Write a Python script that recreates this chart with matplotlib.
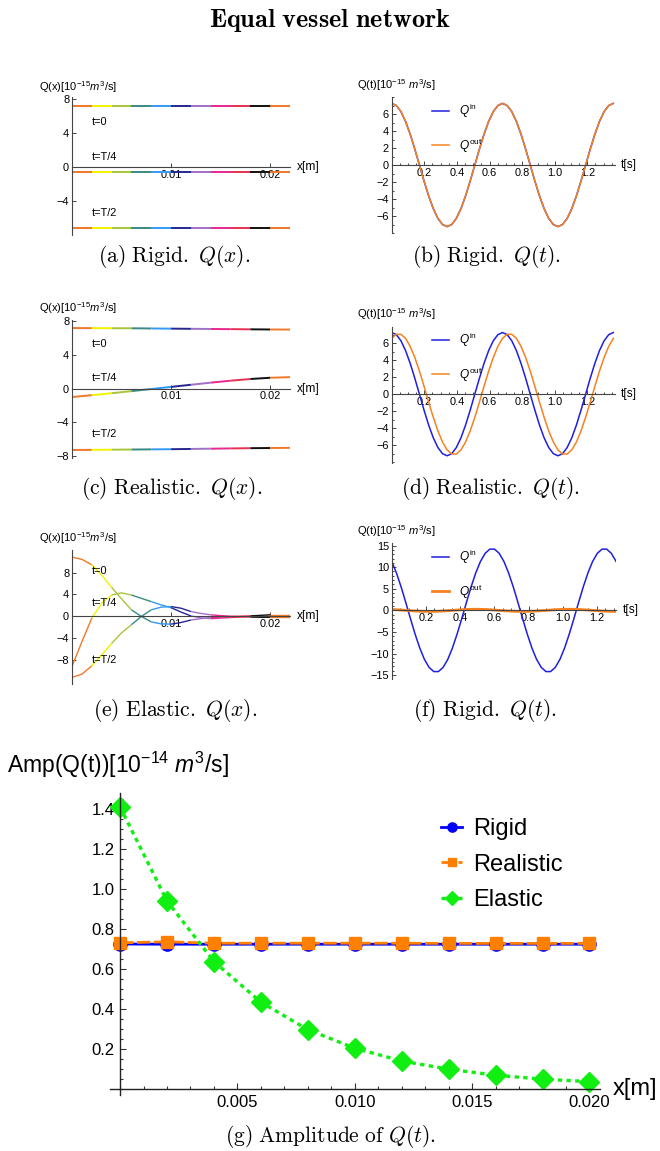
import matplotlib
matplotlib.use('Agg')
import matplotlib.pyplot as plt
import numpy as np
from matplotlib.ticker import MultipleLocator, FixedLocator, FormatStrFormatter

plt.rcParams['font.family'] = ['Liberation Sans', 'DejaVu Sans']
plt.rcParams['mathtext.fontset'] = 'custom'
plt.rcParams['mathtext.rm'] = 'Liberation Sans'
plt.rcParams['mathtext.it'] = 'Liberation Sans:italic'
plt.rcParams['mathtext.bf'] = 'Liberation Sans:bold'

# ---- data -------------------------------------------------------------
# vessel colours (11 vessels of 2 mm each)
vessel_colors = ['#f07828', '#f2f200', '#a8c43c', '#3a8a84', '#3399f5', '#262690',
                 '#a070c8', '#e8288c', '#e63050', '#111111', '#f07828']

x_coarse = np.round(np.arange(12) * 0.002, 3)   # vessel ends [m]
x_fine = np.round(np.arange(23) * 0.001, 3)

# (a) rigid Q(x)
qx_rigid_t0 = [7.2, 7.2, 7.2, 7.2, 7.2, 7.2, 7.2, 7.2, 7.2, 7.2, 7.2, 7.2]
qx_rigid_t4 = [-0.6, -0.6, -0.6, -0.6, -0.6, -0.6, -0.6, -0.6, -0.6, -0.6, -0.6, -0.6]
qx_rigid_t2 = [-7.15, -7.15, -7.15, -7.15, -7.15, -7.15, -7.15, -7.15, -7.15, -7.15, -7.15, -7.15]

# (c) realistic Q(x)
qx_real_t0 = [7.15, 7.14, 7.13, 7.12, 7.1, 7.08, 7.06, 7.04, 7.02, 7.0, 6.98, 6.97]
qx_real_t4 = [-1.0, -0.78, -0.55, -0.3, -0.05, 0.2, 0.45, 0.7, 0.93, 1.13, 1.28, 1.35]
qx_real_t2 = [-7.25, -7.24, -7.22, -7.2, -7.18, -7.16, -7.13, -7.1, -7.07, -7.04, -7.02, -7.0]

# (e) elastic Q(x)
qx_el_t0 = [10.8, 10.4, 9.4, 7.5, 5.3, 3.2, 1.2, 0.0, -1.0, -1.35, -1.4, -1.1, -0.65,
            -0.4, -0.2, -0.1, -0.05, 0.05, 0.1, 0.2, 0.3, 0.3, 0.3]
qx_el_t4 = [-9.1, -4.6, -0.3, 2.4, 3.9, 4.3, 3.9, 3.3, 2.7, 2.1, 1.6, 0.8, 0.1,
            -0.25, -0.4, -0.3, -0.2, -0.1, 0.0, 0.0, 0.0, 0.0, 0.0]
qx_el_t2 = [-11.1, -10.5, -9.0, -7.0, -4.9, -3.0, -1.5, 0.0, 1.2, 1.7, 1.8, 1.5, 0.9,
            0.55, 0.3, 0.15, 0.05, -0.05, -0.1, -0.15, -0.15, -0.15, -0.15]

# (b),(d) time samples [s]
t_rr = np.round(np.arange(49) * 0.02833, 4)
qt_rigid_in = [7.25, 7.00, 6.28, 5.13, 3.63, 1.88, 0.0, -1.88, -3.63, -5.13, -6.28, -7.00,
               -7.25, -7.00, -6.28, -5.13, -3.63, -1.88, 0.0, 1.88, 3.63, 5.13, 6.28, 7.00,
               7.25, 7.00, 6.28, 5.13, 3.63, 1.88, 0.0, -1.88, -3.63, -5.13, -6.28, -7.00,
               -7.25, -7.00, -6.28, -5.13, -3.63, -1.88, 0.0, 1.88, 3.63, 5.13, 6.28, 7.00,
               7.25]
qt_rigid_out = qt_rigid_in
qt_real_in = qt_rigid_in
qt_real_out = [6.56, 7.04, 7.04, 6.56, 5.63, 4.32, 2.72, 0.93, -0.93, -2.72, -4.32, -5.63,
               -6.56, -7.04, -7.04, -6.56, -5.63, -4.32, -2.72, -0.93, 0.93, 2.72, 4.32, 5.63,
               6.56, 7.04, 7.04, 6.56, 5.63, 4.32, 2.72, 0.93, -0.93, -2.72, -4.32, -5.63,
               -6.56, -7.04, -7.04, -6.56, -5.63, -4.32, -2.72, -0.93, 0.93, 2.72, 4.32, 5.63,
               6.56]

# (f) time samples [s]
t_el = np.round(np.arange(49) * 0.02733, 4)
qt_el_in = [11.35, 8.71, 5.47, 1.87, -1.87, -5.47, -8.71, -11.35, -13.21, -14.18, -14.18,
            -13.21, -11.35, -8.71, -5.47, -1.87, 1.87, 5.47, 8.71, 11.35, 13.21, 14.18,
            14.18, 13.21,
            11.35, 8.71, 5.47, 1.87, -1.87, -5.47, -8.71, -11.35, -13.21, -14.18, -14.18,
            -13.21, -11.35, -8.71, -5.47, -1.87, 1.87, 5.47, 8.71, 11.35, 13.21, 14.18,
            14.18, 13.21, 11.35]
qt_el_out = [0.2, 0.15, 0.08, 0.0, -0.08, -0.15, -0.2, -0.24, -0.25, -0.24, -0.2, -0.15,
             -0.08, 0.0, 0.08, 0.15, 0.2, 0.24, 0.25, 0.24, 0.2, 0.15, 0.08, 0.0,
             -0.08, -0.15, -0.2, -0.24, -0.25, -0.24, -0.2, -0.15, -0.08, 0.0, 0.08, 0.15,
             0.2, 0.24, 0.25, 0.24, 0.2, 0.15, 0.08, 0.0, -0.08, -0.15, -0.2, -0.24, -0.25]

# (g) amplitude
x_amp = [0.0, 0.002, 0.004, 0.006, 0.008, 0.010, 0.012, 0.014, 0.016, 0.018, 0.020]
amp_rigid = [0.725, 0.724, 0.724, 0.724, 0.724, 0.724, 0.724, 0.724, 0.724, 0.724, 0.724]
amp_realistic = [0.731, 0.736, 0.729, 0.729, 0.729, 0.729, 0.729, 0.728, 0.728, 0.728, 0.728]
amp_elastic = [1.41, 0.94, 0.637, 0.434, 0.297, 0.204, 0.140, 0.099, 0.069, 0.049, 0.037]

# ---- figure -----------------------------------------------------------
W, H = 660, 1151
fig = plt.figure(figsize=(W / 100, H / 100), dpi=100)

AX_COLOR = '#444444'
BLUE_T = '#1f1fe0'
ORANGE_T = '#f5821f'


def add_ax(left, top, right, bottom):
    return fig.add_axes([left / W, 1 - bottom / H, (right - left) / W, (bottom - top) / H])


def ftext(x, y, s, **kw):
    return fig.text(x / W, 1 - y / H, s, **kw)


def mma_axes(ax, xlim, ylim, fs=7.9):
    ax.set_xlim(*xlim)
    ax.set_ylim(*ylim)
    ax.patch.set_visible(False)
    ax.spines['top'].set_visible(False)
    ax.spines['right'].set_visible(False)
    ax.spines['left'].set_position(('data', 0))
    ax.spines['bottom'].set_position(('data', 0))
    for s in ('left', 'bottom'):
        ax.spines[s].set_color(AX_COLOR)
        ax.spines[s].set_linewidth(0.8)
    ax.tick_params(which='both', direction='in', colors=AX_COLOR, labelcolor='black',
                   labelsize=fs, width=0.7)
    ax.tick_params(which='major', length=3.2, pad=2)
    ax.tick_params(which='minor', length=1.6)


def qx_panel(top, bottom, ylim, yticks, curves, xs, lw, label_ys, ylab_y):
    ax = add_ax(72, top, 290, bottom)
    mma_axes(ax, (0, 0.022), ylim)
    n_per = (len(xs) - 1) // len(vessel_colors)
    for vals in curves:
        for i, c in enumerate(vessel_colors):
            sl = slice(i * n_per, (i + 1) * n_per + 1)
            ax.plot(xs[sl], vals[sl], color=c, lw=lw, solid_capstyle='butt')
    ax.set_xticks([0.01, 0.02])
    ax.xaxis.set_major_formatter(FormatStrFormatter('%.2f'))
    ax.set_yticks(yticks)
    for lab, yv in zip(['t=0', 't=T/4', 't=T/2'], label_ys):
        ax.text(0.002, yv, lab, fontsize=7.9, ha='left', va='center')
    ax.annotate('x[m]', xy=(1, 0), xycoords=('axes fraction', 'data'), xytext=(5, 0),
                textcoords='offset points', ha='left', va='center', fontsize=8.6)
    ftext(117, ylab_y, r'Q(x)[10$^{-15}$$m^3$/s]', ha='right', va='center', fontsize=8)
    return ax


def qt_panel(top, bottom, xlim, ylim, yticks, t, q_in, q_out, lw_out, leg_top, ylab_y,
             px_per_s):
    ax = add_ax(391.7, top, 391.7 + px_per_s * xlim[1], bottom)
    mma_axes(ax, xlim, ylim)
    ax.plot(t, q_in, color=BLUE_T, lw=1.1, label=r'$Q^{\mathrm{in}}$')
    ax.plot(t, q_out, color=ORANGE_T, lw=lw_out, label=r'$Q^{\mathrm{out}}$')
    ax.set_xticks([0.2, 0.4, 0.6, 0.8, 1.0, 1.2])
    ax.xaxis.set_major_formatter(FormatStrFormatter('%.1f'))
    ax.xaxis.set_minor_locator(MultipleLocator(0.05))
    ax.set_yticks(yticks)
    ax.yaxis.set_minor_locator(MultipleLocator(1))
    ax.legend(loc='upper left', bbox_to_anchor=(432 / W, 1 - leg_top / H),
              bbox_transform=fig.transFigure, frameon=False, fontsize=8.6,
              handlelength=1.45, handletextpad=0.8, labelspacing=1.35,
              borderpad=0, borderaxespad=0)
    ax.annotate('t[s]', xy=(1, 0), xycoords=('axes fraction', 'data'), xytext=(4.5, 0),
                textcoords='offset points', ha='left', va='center', fontsize=8.6)
    ftext(436, ylab_y, r'Q(t)[10$^{-15}$ $m^3$/s]', ha='right', va='center', fontsize=8)
    return ax


# title
ftext(330, 21, r'$\mathbf{Equal\ vessel\ network}$', ha='center', va='center',
      fontsize=18.8, math_fontfamily='cm')

# (a)
qx_panel(97, 235, (-8.0, 8.2), [-4, 0, 4, 8],
         [qx_rigid_t0, qx_rigid_t4, qx_rigid_t2], x_coarse, 1.4, [5.3, 1.2, -5.4], 87)
# (c)
qx_panel(320, 458, (-8.2, 8.1), [-8, -4, 0, 4, 8],
         [qx_real_t0, qx_real_t4, qx_real_t2], x_coarse, 1.4, [5.3, 1.2, -5.4], 308)
# (e)
qx_panel(550, 684, (-12.3, 12.1), [-8, -4, 0, 4, 8],
         [qx_el_t0, qx_el_t4, qx_el_t2], x_fine, 1.0, [8.2, 2.4, -8.0], 538)

# (b)
qt_panel(97, 233, (0, 1.37), (-8.0, 8.0), [-6, -4, -2, 0, 2, 4, 6],
         t_rr, qt_rigid_in, qt_rigid_out, 1.1, 102, 85, 163.0)
# (d)
qt_panel(327, 463, (0, 1.37), (-8.1, 7.9), [-6, -4, -2, 0, 2, 4, 6],
         t_rr, qt_real_in, qt_real_out, 1.1, 331, 314, 163.0)
# (f)
qt_panel(543, 679, (0, 1.313), (-15.9, 15.6), [-15, -10, -5, 0, 5, 10, 15],
         t_el, qt_el_in, qt_el_out, 2.0, 548, 531, 171.0)

# captions
caps = [(174, 257, r'$\mathrm{(a)\ Rigid.}\ Q(x).$'),
        (487, 257, r'$\mathrm{(b)\ Rigid.}\ Q(t).$'),
        (172, 488, r'$\mathrm{(c)\ Realistic.}\ Q(x).$'),
        (491, 488, r'$\mathrm{(d)\ Realistic.}\ Q(t).$'),
        (175, 710, r'$\mathrm{(e)\ Elastic.}\ Q(x).$'),
        (485, 711, r'$\mathrm{(f)\ Rigid.}\ Q(t).$'),
        (331, 1137, r'$\mathrm{(g)\ Amplitude\ of}\ Q(t).$')]
for cx, cy, s in caps:
    ftext(cx, cy, s, ha='center', va='center', fontsize=15.5, math_fontfamily='cm')

# (g)
axg = add_ax(110, 793, 600, 1095)
axg.set_xlim(-0.00043, 0.02045)
axg.set_ylim(-0.03, 1.48)
axg.patch.set_visible(False)
axg.spines['top'].set_visible(False)
axg.spines['right'].set_visible(False)
axg.spines['left'].set_position(('data', 0))
axg.spines['bottom'].set_position(('data', 0))
for s in ('left', 'bottom'):
    axg.spines[s].set_color('#222222')
    axg.spines[s].set_linewidth(1.0)
axg.tick_params(which='both', direction='in', colors='#333333', labelcolor='black',
                labelsize=12, width=0.8)
axg.tick_params(which='major', length=4.3, pad=4)
axg.tick_params(which='minor', length=2.4)
axg.xaxis.set_major_locator(FixedLocator([0.005, 0.010, 0.015, 0.020]))
axg.xaxis.set_major_formatter(FormatStrFormatter('%.3f'))
axg.xaxis.set_minor_locator(MultipleLocator(0.001))
axg.yaxis.set_major_locator(FixedLocator([0.2, 0.4, 0.6, 0.8, 1.0, 1.2, 1.4]))
axg.yaxis.set_major_formatter(FormatStrFormatter('%.1f'))
axg.yaxis.set_minor_locator(MultipleLocator(0.05))

axg.plot(x_amp, amp_rigid, color='#0000ff', lw=2.0, marker='o', ms=9.5,
         label='Rigid', clip_on=False)
axg.plot(x_amp, amp_realistic, color='#ff8000', lw=2.0, ls=(0, (4.8, 1.3)), marker='s',
         ms=8.5, label='Realistic', clip_on=False)
axg.plot(x_amp, amp_elastic, color='#11ee11', lw=2.4, ls=(0, (1.3, 1.3)), marker='D',
         ms=10, label='Elastic', clip_on=False)
axg.legend(loc='upper left', bbox_to_anchor=(441 / W, 1 - 818 / H),
           bbox_transform=fig.transFigure, frameon=False, fontsize=17,
           handlelength=0.9, handletextpad=0.45, labelspacing=0.58,
           borderpad=0, borderaxespad=0, markerscale=0.7)
axg.annotate('x[m]', xy=(1, 0), xycoords=('axes fraction', 'data'), xytext=(9, 0),
             textcoords='offset points', ha='left', va='center', fontsize=17)
ftext(7, 765, r'Amp(Q(t))[10$^{-14}$ $m^3$/s]', ha='left', va='center', fontsize=16.5)

fig.savefig('out.png', dpi=100)
